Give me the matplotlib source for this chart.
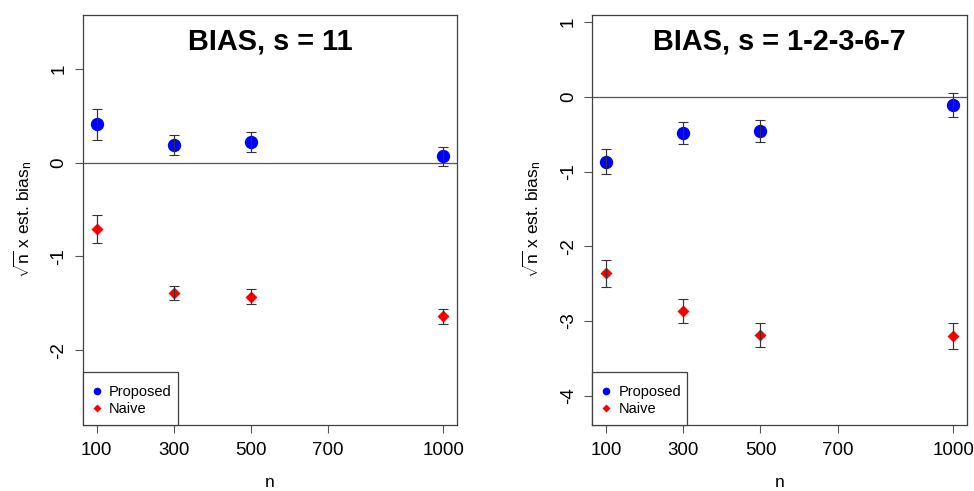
import matplotlib
matplotlib.use("Agg")
import matplotlib.pyplot as plt
from matplotlib.lines import Line2D
from matplotlib.patches import Rectangle

plt.rcParams['font.family'] = ['Liberation Sans', 'DejaVu Sans']
plt.rcParams['mathtext.fontset'] = 'custom'
plt.rcParams['mathtext.rm'] = 'Liberation Sans'
plt.rcParams['mathtext.it'] = 'Liberation Sans'

n_values = [100, 300, 500, 1000]
x_ticks = [100, 300, 500, 700, 1000]

# Panel 1: s = 11
title1 = "BIAS, s = 11"
prop1 = [0.41, 0.19, 0.22, 0.07]
prop1_err = [0.165, 0.107, 0.105, 0.10]
naive1 = [-0.71, -1.39, -1.43, -1.64]
naive1_err = [0.15, 0.075, 0.08, 0.08]
yticks1 = [-2, -1, 0, 1]
ylim1 = (-2.80, 1.58)

# Panel 2: s = 1-2-3-6-7
title2 = "BIAS, s = 1-2-3-6-7"
prop2 = [-0.865, -0.48, -0.455, -0.11]
prop2_err = [0.17, 0.15, 0.15, 0.16]
naive2 = [-2.36, -2.865, -3.18, -3.195]
naive2_err = [0.18, 0.16, 0.16, 0.175]
yticks2 = [-4, -3, -2, -1, 0, 1]
ylim2 = (-4.39, 1.10)

legend_labels = ['Proposed', 'Naive']

fig = plt.figure(figsize=(9.74, 4.91), dpi=100)
ax1 = fig.add_axes([0.0849, 0.1344, 0.3843, 0.8357])
ax2 = fig.add_axes([0.6081, 0.1344, 0.3850, 0.8357])

edge = '#404040'

def draw(ax, title, prop, perr, naive, nerr, yticks, ylim):
    ax.axhline(0, color='#555555', lw=0.9, zorder=1)
    ax.errorbar(n_values, prop, yerr=perr, fmt='none', ecolor='#333333',
                elinewidth=0.8, capsize=3.5, capthick=0.8, zorder=2)
    ax.errorbar(n_values, naive, yerr=nerr, fmt='none', ecolor='#333333',
                elinewidth=0.8, capsize=3.5, capthick=0.8, zorder=2)
    ax.plot(n_values, prop, 'o', color='#0000FF', ms=9.6, mec='none', zorder=3)
    ax.plot(n_values, naive, 'D', color='#FF0000', ms=6.6, mec='none', zorder=3)
    ax.errorbar(n_values, prop, yerr=perr, fmt='none', ecolor='#333333',
                elinewidth=0.8, capsize=0, zorder=4)
    ax.errorbar(n_values, naive, yerr=nerr, fmt='none', ecolor='#333333',
                elinewidth=0.8, capsize=0, zorder=4)
    ax.set_xlim(64, 1036)
    ax.set_ylim(*ylim)
    ax.set_xticks(x_ticks)
    ax.set_xticklabels([str(t) for t in x_ticks], fontsize=13.5)
    ax.set_yticks(yticks)
    ax.set_yticklabels([str(t) for t in yticks], fontsize=13.5, rotation=90, va='center')
    ax.tick_params(direction='out', length=6, width=0.8, color='#555555', pad=6)
    ax.tick_params(axis='y', pad=5)
    for s in ax.spines.values():
        s.set_color(edge)
        s.set_linewidth(0.9)
    ax.text(0.5, 0.914, title, transform=ax.transAxes, fontsize=20.8,
            fontweight='bold', ha='center', va='baseline')
    ax.set_xlabel('n', fontsize=12.5, labelpad=12)
    ax.set_ylabel(r'$\sqrt{\mathrm{n}}$ x est. bias$_\mathrm{n}$', fontsize=12.5, labelpad=12)
    handles = [Line2D([], [], marker='o', color='#0000FF', ls='none', ms=5.5, mec='none'),
               Line2D([], [], marker='D', color='#FF0000', ls='none', ms=3.6, mec='none')]
    ax.add_patch(Rectangle((0, 0), 0.2538, 0.1284, transform=ax.transAxes,
                           facecolor='white', edgecolor=edge, lw=0.9, zorder=5,
                           clip_on=False))
    leg = ax.legend(handles, legend_labels, loc='lower left', fontsize=10.5,
                    frameon=False, borderaxespad=0, handlelength=1.0,
                    handletextpad=0.35, borderpad=0.45, labelspacing=0.2,
                    bbox_to_anchor=(0.0, 0.005))
    leg.set_zorder(6)

draw(ax1, title1, prop1, prop1_err, naive1, naive1_err, yticks1, ylim1)
draw(ax2, title2, prop2, prop2_err, naive2, naive2_err, yticks2, ylim2)

fig.savefig('out.png', dpi=100)
